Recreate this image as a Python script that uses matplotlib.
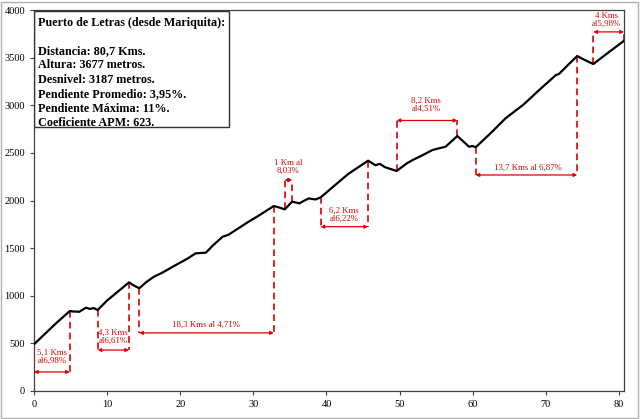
import numpy as np
import matplotlib
matplotlib.use('Agg')
import matplotlib.pyplot as plt
from matplotlib.patches import Rectangle

# profile data (km, metres)
km = [0, 1.5, 3, 4.9, 5.3, 6.2, 7.1, 7.6, 8.2, 8.7, 10, 11.5, 13.0, 13.6, 14.4,
      15.3, 16.4, 17.5, 19.4, 21, 22.1, 23.5, 24.5, 25.8, 26.6, 27.6, 29.2, 30.5,
      32.8, 33.6, 34.3, 35.3, 36.3, 37.0, 37.6, 38.5, 39.2, 41, 43, 45.7, 46.7,
      47.3, 48, 49.6, 51, 51.8, 53, 54.5, 55.4, 56.3, 57.9, 59.0, 59.5, 60.0,
      60.4, 62.5, 64.5, 67, 69.1, 71.4, 71.8, 73, 74.3, 75.2, 76.5, 78.5, 80.7]
elev = [490, 600, 710, 840, 835, 832, 875, 862, 870, 850, 950, 1045, 1141, 1110, 1078,
        1140, 1200, 1240, 1323, 1390, 1445, 1452, 1530, 1620, 1640, 1690, 1770, 1830,
        1942, 1925, 1907, 1988, 1970, 2000, 2022, 2011, 2032, 2150, 2280, 2418, 2370,
        2385, 2350, 2310, 2390, 2425, 2470, 2530, 2548, 2565, 2677, 2600, 2565, 2572,
        2558, 2710, 2863, 3010, 3160, 3318, 3328, 3420, 3517, 3480, 3433, 3550, 3677]

# climbs: start km, end km, label
seg_start = [0, 8.7, 14.4, 34.3, 39.2, 49.6, 60.4, 76.5]
seg_end = [4.9, 13.0, 32.8, 35.3, 45.7, 57.9, 74.3, 80.7]
seg_labels = ['5,1 Kms\nal6,98%', '4,3 Kms\nal6,61%', '18,3 Kms al 4,71%',
              '1 Km al\n8,03%', '6,2 Kms\nal6,22%', '8,2 Kms\nal4,51%',
              '13,7 Kms al 6,87%', '4 Kms\nal5,98%']

info_title = 'Puerto de Letras (desde Mariquita):'
info_lines = ['Distancia: 80,7 Kms.', 'Altura: 3677 metros.', 'Desnivel: 3187 metros.',
              'Pendiente Promedio: 3,95%.', 'Pendiente Máxima: 11%.', 'Coeficiente APM: 623.']

x_ticks = [0, 10, 20, 30, 40, 50, 60, 70, 80]
y_ticks = [0, 500, 1000, 1500, 2000, 2500, 3000, 3500, 4000]

# layout of the annotations (arrow height, label position)
arrow_y = [200, 430, 610, 2215, 1725, 2840, 2268, 3770]
label_xy = [(2.5, 355), (10.8, 570), (23.5, 700), (34.8, 2350),
            (42.4, 1850), (53.6, 3005), (67.5, 2345), (78.3, 3895)]

red = '#dd0000'
serif = ['Liberation Serif', 'DejaVu Serif']

fig = plt.figure(figsize=(6.4, 4.19), dpi=100)
ax = fig.add_axes([34 / 640, 1 - 391 / 419, 590 / 640, 381 / 419])

ax.plot(km, elev, color='black', lw=1.6, zorder=5)

for i in range(len(seg_start)):
    x0, x1 = seg_start[i], seg_end[i]
    ya = arrow_y[i]
    for xv in (x0, x1):
        ye = np.interp(xv, km, elev)
        ax.plot([xv, xv], [ye, ya], color=red, lw=1.2, ls=(0, (4, 2.5)), zorder=4)
    ax.annotate('', xy=(x1, ya), xytext=(x0, ya),
                arrowprops=dict(arrowstyle='<|-|>', color=red, lw=0.9,
                                mutation_scale=5, shrinkA=0, shrinkB=0))
    ax.text(label_xy[i][0], label_xy[i][1], seg_labels[i], color=red, fontsize=6.3,
            family=serif, ha='center', va='center', linespacing=1.0)

# info box
ax.add_patch(Rectangle((0, 2773), 26.7, 1217, fill=False, ec='#303030', lw=1.0, zorder=6))
ax.text(0.5, 3865, info_title, fontsize=8.7, fontweight='bold', family=serif,
        va='center', ha='left', zorder=7)
for j, line in enumerate(info_lines):
    ax.text(0.5, 3570 - j * 152, line, fontsize=8.7, fontweight='bold', family=serif,
            va='center', ha='left', zorder=7)

ax.set_xlim(0, 80.7)
ax.set_ylim(0, 4000)
ax.set_xticks(x_ticks)
ax.set_yticks(y_ticks)
ax.set_xticklabels([str(t) for t in x_ticks], family=serif, fontsize=7.5)
ax.set_yticklabels([str(t) for t in y_ticks], family=serif, fontsize=7.5)
ax.tick_params(axis='both', direction='out', length=3, width=0.8, color='#404040')
for s in ax.spines.values():
    s.set_color('#404040')
    s.set_linewidth(0.9)

fig.add_artist(Rectangle((0.002, 0.003), 0.995, 0.993, transform=fig.transFigure,
                         fill=False, ec='#b0b0b0', lw=1.0))

fig.savefig('out.png', dpi=100)
